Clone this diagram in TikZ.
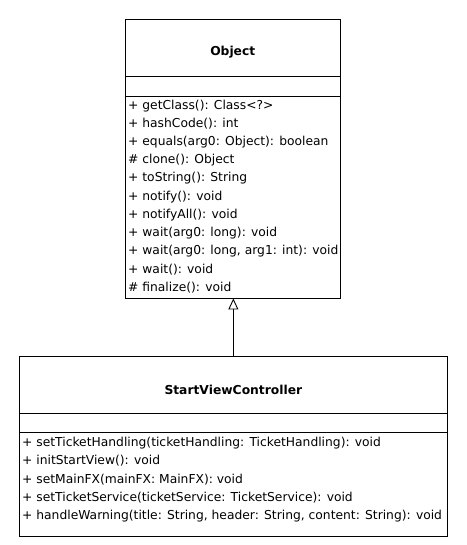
\documentclass[tikz,border=0pt]{standalone}
\usepackage{fontspec}
\setmainfont{DejaVu Sans}
\usetikzlibrary{arrows.meta}
\tikzset{
  classbox/.style={draw,line width=0.9pt,inner sep=0pt},
  member/.style={anchor=west,inner sep=0pt,font=\fontsize{12.3}{14}\selectfont},
  classname/.style={inner sep=0pt,font=\fontsize{12.3}{14}\selectfont\bfseries},
  extends/.style={line width=0.9pt,-{Triangle[open,length=11pt,width=10pt]}}
}
\begin{document}
\begin{tikzpicture}[x=1pt,y=-1pt]
      \useasboundingbox (0,0) rectangle (466,545);
      % Object
      \node[classbox,minimum width=215.5pt,minimum height=279pt] (obj) at (232.75,158.5) {};
      \draw[line width=0.9pt] (125,76.7) -- (340.5,76.7);
      \draw[line width=0.9pt] (125,96) -- (340.5,96);
      \node[classname] (objname) at (232.75,52) {Object};
      \node[member] (o1) at (128,105.7) {+ getClass(): Class<?>};
      \node[member] (o2) at (128,123.9) {+ hashCode(): int};
      \node[member] (o3) at (128,142.1) {+ equals(arg0: Object): boolean};
      \node[member] (o4) at (128,160.3) {\# clone(): Object};
      \node[member] (o5) at (128,178.5) {+ toString(): String};
      \node[member] (o6) at (128,196.7) {+ notify(): void};
      \node[member] (o7) at (128,214.9) {+ notifyAll(): void};
      \node[member] (o8) at (128,233.1) {+ wait(arg0: long): void};
      \node[member] (o9) at (128,251.3) {+ wait(arg0: long, arg1: int): void};
      \node[member] (o10) at (128,269.5) {+ wait(): void};
      \node[member] (o11) at (128,287.7) {\# finalize(): void};
      % StartViewController
      \node[classbox,minimum width=428.7pt,minimum height=179.3pt] (svc) at (233.35,446.35) {};
      \draw[line width=0.9pt] (19,413.3) -- (447.7,413.3);
      \draw[line width=0.9pt] (19,432.3) -- (447.7,432.3);
      \node[classname] (svcname) at (233.35,390) {StartViewController};
      \node[member] (s1) at (22,442.7) {+ setTicketHandling(ticketHandling: TicketHandling): void};
      \node[member] (s2) at (22,460.95) {+ initStartView(): void};
      \node[member] (s3) at (22,479.2) {+ setMainFX(mainFX: MainFX): void};
      \node[member] (s4) at (22,497.45) {+ setTicketService(ticketService: TicketService): void};
      \node[member] (s5) at (22,515.7) {+ handleWarning(title: String, header: String, content: String): void};
      % generalization
      \draw[extends] (svc.north) -- (svc.north |- obj.south);
    \end{tikzpicture}
\end{document}
